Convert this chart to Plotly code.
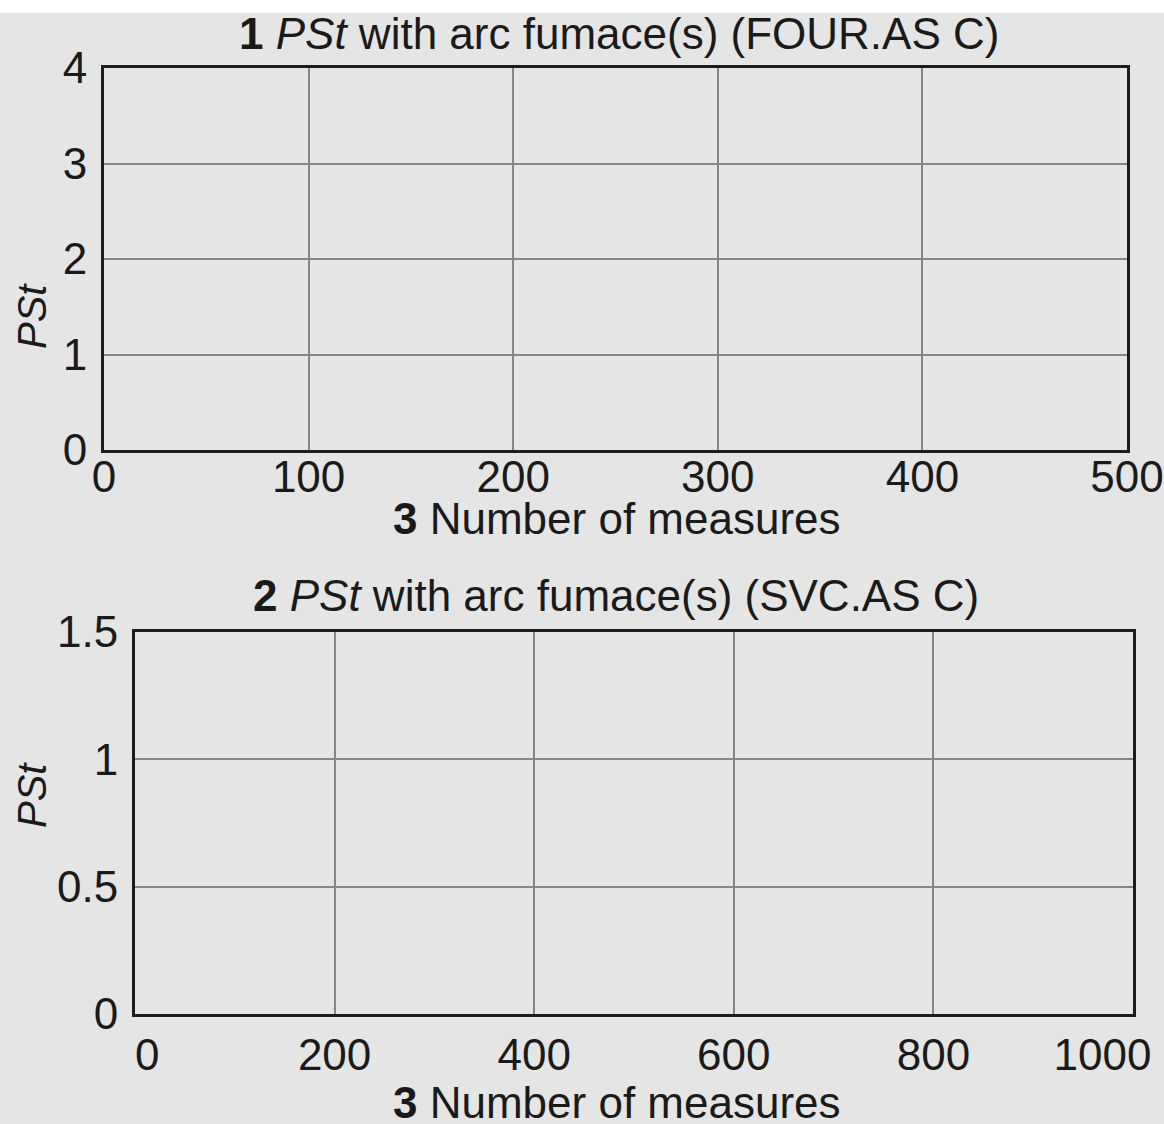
import plotly.graph_objects as go

W, H = 1164, 1124

# ---- data (axes only; the reference panels contain no plotted series) ----
top_title = "<b>1</b> <i>PSt</i> with arc fumace(s) (FOUR.AS C)"
bot_title = "<b>2</b> <i>PSt</i> with arc fumace(s) (SVC.AS C)"
x_title = "<b>3</b> Number of measures"
y_title = "<i>PSt</i>"

top_x_ticks = [0, 100, 200, 300, 400, 500]
top_y_ticks = [0, 1, 2, 3, 4]
bot_x_ticks = [0, 200, 400, 600, 800, 1000]
bot_y_ticks = [0, 0.5, 1, 1.5]
bot_y_labels = ["0", "0.5", "1", "1.5"]

BG = "#e5e5e5"
FRAME = "#1c1c1c"
GRID = "#858585"
TXT = "#1a1a1a"
FONT = "Liberation Sans, Arial, Helvetica, sans-serif"
FS = 44

def px_x(p):
    return p / W

def px_y(p):
    return 1 - p / H

fig = go.Figure()
fig.add_trace(go.Scatter(x=[], y=[], xaxis="x", yaxis="y", showlegend=False))
fig.add_trace(go.Scatter(x=[], y=[], xaxis="x2", yaxis="y2", showlegend=False))

common = dict(
    showgrid=True, gridcolor=GRID, gridwidth=1.5,
    showline=True, mirror=True, linecolor=FRAME, linewidth=3,
    zeroline=False, ticks="outside", tickcolor="rgba(0,0,0,0)",
    tickfont=dict(family=FONT, size=FS, color=TXT),
    ticklabeloverflow="allow", automargin=False,
    fixedrange=True,
)

nb = "\u00a0"
bot_x_text = []
for v in bot_x_ticks:
    s = str(v)
    if v == bot_x_ticks[0]:
        s = nb * 2 + s
    if v == bot_x_ticks[-1]:
        s = s + nb * 5
    bot_x_text.append(s)

fig.update_layout(
    width=W, height=H, autosize=False,
    margin=dict(l=0, r=0, t=0, b=0, pad=0),
    paper_bgcolor=BG, plot_bgcolor=BG,
    showlegend=False,
    xaxis=dict(common, domain=[px_x(104), px_x(1127)], range=[0, 500],
               tickvals=top_x_ticks, ticktext=[str(v) for v in top_x_ticks],
               ticklen=0, ticklabelstandoff=-14, anchor="y"),
    yaxis=dict(common, domain=[px_y(450), px_y(68)], range=[0, 4],
               tickvals=top_y_ticks, ticktext=[str(v) for v in top_y_ticks],
               ticklen=5, anchor="x"),
    xaxis2=dict(common, domain=[px_x(135), px_x(1133)], range=[0, 1000],
                tickvals=bot_x_ticks, ticktext=bot_x_text,
                ticklen=0, anchor="y2"),
    yaxis2=dict(common, domain=[px_y(1014), px_y(632)], range=[0, 1.5],
                tickvals=bot_y_ticks, ticktext=bot_y_labels,
                ticklen=5, anchor="x2"),
    shapes=[dict(type="rect", xref="paper", yref="paper", x0=0, x1=1,
                 y0=px_y(13), y1=1, fillcolor="white", line=dict(width=0),
                 layer="below")],
)

ann_font = dict(family=FONT, size=FS, color=TXT)
annots = [
    dict(text=top_title, x=px_x(619), y=px_y(33)),
    dict(text=x_title, x=px_x(617), y=px_y(519)),
    dict(text=bot_title, x=px_x(616), y=px_y(595)),
    dict(text=x_title, x=px_x(617), y=px_y(1102)),
    dict(text=y_title, x=px_x(32), y=px_y(316), textangle=-90, size=40),
    dict(text=y_title, x=px_x(32), y=px_y(795), textangle=-90, size=40),
]
for a in annots:
    size = a.pop("size", FS)
    fig.add_annotation(xref="paper", yref="paper", xanchor="center",
                       yanchor="middle", showarrow=False,
                       font=dict(ann_font, size=size), **a)

fig.write_html(
    "out.html",
    config={"displayModeBar": False},
    post_script=(
        "document.documentElement.style.margin='0';"
        "document.body.style.margin='0';"
        "document.body.style.overflow='hidden';"
        "document.body.style.background='%s';" % BG
    ),
)
